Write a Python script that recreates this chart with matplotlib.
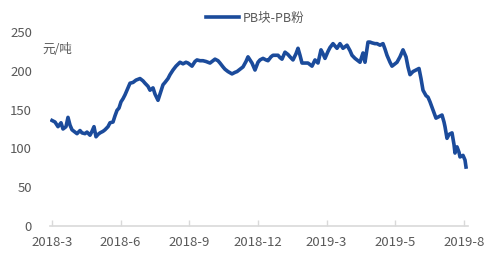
import matplotlib
matplotlib.use("Agg")
import matplotlib.pyplot as plt
import numpy as np

plt.rcParams['font.family'] = ['Noto Sans CJK SC', 'DejaVu Sans']

series_name = "PB块-PB粉"
unit_label = "元/吨"
tick_labels = ["2018-3", "2018-6", "2018-9", "2018-12", "2019-3", "2019-5", "2019-8"]
y_ticks = [0, 50, 100, 150, 200, 250]

# observation index (trading-day scale) and spread values
day = [0, 3, 6, 9, 11, 14, 16, 18, 20, 23, 25, 28, 30, 33, 35, 38, 40, 42, 44, 46,
       48, 51, 53, 56, 58, 61, 63, 65, 67, 69, 71, 73, 75, 78, 81, 84, 88, 91, 93, 96,
       98, 101, 103, 106, 108, 111, 113, 116, 118, 121, 124, 128, 131, 134, 136, 138, 140, 143, 145, 148,
       151, 154, 158, 161, 163, 166, 168, 171, 173, 176, 180, 183, 185, 188, 191, 194, 196, 198, 200, 203,
       206, 208, 211, 214, 216, 219, 221, 224, 226, 228, 230, 233, 236, 238, 241, 244, 246, 248, 250, 253,
       256, 258, 260, 263, 266, 269, 271, 273, 276, 278, 281, 283, 285, 288, 291, 293, 295, 298, 300, 303,
       305, 308, 311, 313, 316, 318, 320, 323, 325, 328, 331, 333, 335, 338, 340, 343, 345, 348, 351, 354,
       356, 358, 361, 364, 367, 369, 371, 374, 376, 378, 380, 382, 384, 387, 390, 392, 393, 395, 397, 400,
       402, 403, 405, 407, 408, 411, 413, 414]
value = [136, 134, 128, 133, 125, 128, 140, 130, 124, 121, 119, 123, 120, 119, 121, 117, 122, 128, 115, 118,
         120, 122, 124, 128, 133, 134, 142, 149, 152, 160, 164, 169, 175, 184, 185, 188, 190, 187, 184, 180,
         175, 178, 170, 162, 170, 182, 185, 190, 195, 201, 206, 211, 209, 211, 210, 208, 206, 212, 214, 213,
         213, 212, 210, 213, 215, 213, 210, 205, 202, 199, 196, 198, 199, 202, 205, 212, 218, 214, 210, 201,
         211, 214, 216, 214, 213, 218, 220, 220, 220, 217, 215, 224, 221, 218, 214, 222, 229, 220, 210, 210,
         210, 208, 206, 214, 210, 227, 222, 216, 225, 230, 235, 232, 229, 235, 229, 231, 233, 226, 220, 216,
         214, 211, 223, 211, 237, 237, 236, 235, 235, 233, 235, 228, 220, 211, 206, 209, 211, 218, 227, 218,
         205, 195, 199, 201, 203, 190, 175, 168, 166, 160, 153, 146, 139, 141, 143, 134, 128, 113, 118, 120,
         105, 94, 102, 95, 89, 91, 85, 76]

fig = plt.figure(figsize=(5.01, 2.66), dpi=100)
ax = fig.add_axes([50 / 501, 40 / 266, 418 / 501, 194 / 266])

line_color = "#1b4b9b"
text_color = "#595959"

ax.plot(day, value, color=line_color, lw=2.6, label=series_name, solid_joinstyle='round')

ax.set_xlim(-2, 416)
ax.set_ylim(0, 250)
ax.set_xticks(np.linspace(0, 412, len(tick_labels)))
ax.set_xticklabels(tick_labels)
ax.set_yticks(y_ticks)

for s in ["top", "right", "left"]:
    ax.spines[s].set_visible(False)
ax.spines["bottom"].set_color("#d9d9d9")
ax.spines["bottom"].set_linewidth(1.2)

ax.tick_params(axis="x", direction="in", length=4, width=1, color="#d9d9d9",
               labelsize=9.5, labelcolor=text_color, pad=7)
ax.tick_params(axis="y", length=0, labelsize=9.5, labelcolor=text_color, pad=13)

ax.text(-10, 228, unit_label, color=text_color, fontsize=9, va="center", ha="left")

leg = fig.legend(loc="center", bbox_to_anchor=(255 / 501, 1 - 18 / 266), frameon=False,
                 fontsize=9, handlelength=2.6, handletextpad=0.3)
for t in leg.get_texts():
    t.set_color(text_color)

fig.savefig("out.png", dpi=100)
